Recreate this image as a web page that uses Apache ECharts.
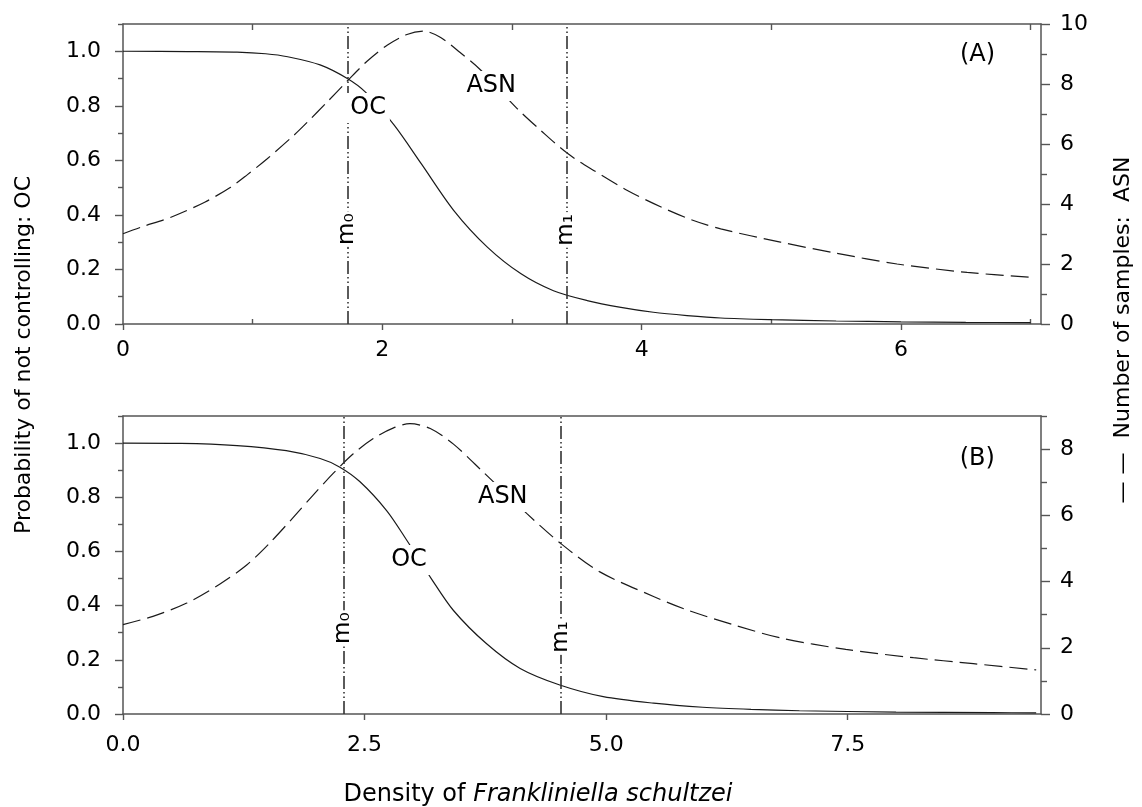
<!DOCTYPE html>
<html>
<head>
<meta charset="utf-8">
<script src="https://cdn.jsdelivr.net/npm/echarts@6/dist/echarts.min.js"></script>
<style>
html,body{margin:0;padding:0;background:#fff;}
#chart{width:1142px;height:807px;}
</style>
</head>
<body>
<div id="chart"></div>
<script>
// ---------- Panel (A) ----------
const xTicksA = [0, 2, 4, 6];
const xMinorA = [1, 3, 5, 7];
const ocTicks = [0, 0.2, 0.4, 0.6, 0.8, 1.0];
const ocMinor = [0.1, 0.3, 0.5, 0.7, 0.9, 1.1];
const asnTicksA = [0, 2, 4, 6, 8, 10];
const asnMinorA = [1, 3, 5, 7, 9];

const ocA_x  = [0, 0.5, 0.88, 1.1, 1.27, 1.52, 1.73, 1.87, 2.09, 2.3, 2.55, 2.81, 3.07, 3.32, 3.58, 3.84, 4.09, 4.35, 4.61, 5.0, 5.5, 6.0, 6.5, 7.0];
const ocA_y  = [1.0, 0.999, 0.997, 0.991, 0.98, 0.95, 0.90, 0.85, 0.73, 0.588, 0.417, 0.282, 0.184, 0.122, 0.086, 0.061, 0.043, 0.031, 0.022, 0.016, 0.011, 0.008, 0.006, 0.005];

const asnA_x = [0, 0.14, 0.37, 0.63, 0.83, 0.96, 1.11, 1.32, 1.42, 1.57, 1.73, 1.88, 2.04, 2.19, 2.32, 2.45, 2.6, 2.76, 3.04, 3.22, 3.43, 3.63, 3.89, 4.15, 4.4, 4.61, 5.07, 5.5, 5.97, 6.51, 6.99];
const asnA_y = [3.01, 3.23, 3.56, 4.06, 4.56, 4.98, 5.5, 6.3, 6.72, 7.38, 8.1, 8.75, 9.3, 9.65, 9.76, 9.55, 9.05, 8.46, 7.18, 6.46, 5.68, 5.12, 4.45, 3.90, 3.45, 3.17, 2.73, 2.36, 2.0, 1.72, 1.56];

const mA = [1.73, 3.42];   // m0, m1

// ---------- Panel (B) ----------
const xTicksB = [0, 2.5, 5, 7.5];
const asnTicksB = [0, 2, 4, 6, 8];
const asnMinorB = [1, 3, 5, 7, 9];

const ocB_x  = [0, 0.6, 1.18, 1.69, 2.04, 2.24, 2.45, 2.73, 2.93, 3.19, 3.42, 3.76, 4.11, 4.52, 4.97, 5.49, 6.0, 6.5, 7.0, 8.0, 9.0, 9.45];
const ocB_y  = [1.0, 0.999, 0.991, 0.972, 0.943, 0.912, 0.858, 0.75, 0.645, 0.50, 0.382, 0.26, 0.168, 0.107, 0.064, 0.04, 0.025, 0.017, 0.012, 0.007, 0.005, 0.004];

const asnB_x = [0, 0.31, 0.66, 1.0, 1.28, 1.52, 1.76, 1.97, 2.18, 2.38, 2.59, 2.8, 2.97, 3.18, 3.42, 3.73, 4.18, 4.53, 4.93, 5.49, 5.83, 6.31, 6.8, 7.48, 8.18, 8.8, 9.45];
const asnB_y = [2.70, 2.95, 3.35, 3.92, 4.5, 5.17, 5.93, 6.62, 7.28, 7.85, 8.32, 8.64, 8.77, 8.62, 8.15, 7.3, 6.05, 5.15, 4.3, 3.55, 3.15, 2.7, 2.3, 1.95, 1.70, 1.52, 1.33];

const mB = [2.28, 4.53];   // m0, m1

// ---------- styling ----------
const FONT = 'DejaVu Sans';
const AX = '#555';
const TXT = '#000';
const CURVE = '#1a1a1a';

function pairs(xs, ys) { return xs.map((x, i) => [x, ys[i]]); }

function axisLineCfg(show) {
  return { show: show, onZero: false, lineStyle: { color: AX, width: 1.5 } };
}
function labelCfg(values, margin, fmt) {
  return { show: true, customValues: values, margin: margin, fontFamily: FONT, fontSize: 22, color: TXT,
           formatter: fmt || (v => String(v)) };
}
function tickCfg(values, len, inside) {
  return { show: true, customValues: values, length: len, inside: !!inside, lineStyle: { color: AX, width: 1.4 } };
}
const noLabel = { show: false };
const noSplit = { show: false };

const chart = echarts.init(document.getElementById('chart'), null, { renderer: 'canvas' });

const mLineStyle = { color: '#333', width: 1.6, type: [13, 3, 1.5, 3, 1.5, 3] };

function mLines(vals) {
  return {
    silent: true, symbol: 'none', animation: false,
    label: { show: false },
    lineStyle: mLineStyle,
    emphasis: { disabled: true },
    data: vals.map(v => ({ xAxis: v }))
  };
}

function annLabel(text, size, rotate) {
  return {
    show: true, position: 'inside', formatter: text, rotate: rotate || 0,
    fontFamily: FONT, fontSize: size, color: TXT, textBorderWidth: 0, opacity: 1,
    backgroundColor: '#fff', padding: rotate ? [1, 2] : [3, 4]
  };
}

const option = {
  backgroundColor: '#fff',
  animation: false,
  grid: [
    { left: 123, right: 101, top: 24, height: 300, outerBoundsMode: 'none', containLabel: false },
    { left: 123, right: 101, top: 416, height: 298, outerBoundsMode: 'none', containLabel: false }
  ],
  xAxis: [
    { gridIndex: 0, type: 'value', position: 'bottom', min: 0, max: 7.08,
      axisLine: axisLineCfg(true), axisTick: tickCfg(xTicksA, 6), axisLabel: labelCfg(xTicksA, 15), splitLine: noSplit },
    { gridIndex: 0, type: 'value', position: 'top', min: 0, max: 7.08,
      axisLine: axisLineCfg(true), axisTick: tickCfg(xMinorA, 6, true), axisLabel: noLabel, splitLine: noSplit },
    { gridIndex: 0, type: 'value', position: 'bottom', min: 0, max: 7.08,
      axisLine: axisLineCfg(false), axisTick: tickCfg(xMinorA, 5, true), axisLabel: noLabel, splitLine: noSplit },
    { gridIndex: 1, type: 'value', position: 'bottom', min: 0, max: 9.5,
      axisLine: axisLineCfg(true), axisTick: tickCfg(xTicksB, 6), axisLabel: labelCfg(xTicksB, 20, v => v.toFixed(1)), splitLine: noSplit },
    { gridIndex: 1, type: 'value', position: 'top', min: 0, max: 9.5,
      axisLine: axisLineCfg(true), axisTick: { show: false }, axisLabel: noLabel, splitLine: noSplit }
  ],
  yAxis: [
    { gridIndex: 0, type: 'value', position: 'left', min: 0, max: 1.1,
      axisLine: axisLineCfg(true), axisTick: tickCfg(ocTicks, 8), axisLabel: labelCfg(ocTicks, 22, v => v.toFixed(1)), splitLine: noSplit },
    { gridIndex: 0, type: 'value', position: 'right', min: 0, max: 10,
      axisLine: axisLineCfg(true), axisTick: tickCfg(asnTicksA, 9), axisLabel: labelCfg(asnTicksA, 19), splitLine: noSplit },
    { gridIndex: 0, type: 'value', position: 'left', min: 0, max: 1.1,
      axisLine: axisLineCfg(false), axisTick: tickCfg(ocMinor, 5), axisLabel: noLabel, splitLine: noSplit },
    { gridIndex: 0, type: 'value', position: 'right', min: 0, max: 10,
      axisLine: axisLineCfg(false), axisTick: tickCfg(asnMinorA, 6), axisLabel: noLabel, splitLine: noSplit },
    { gridIndex: 1, type: 'value', position: 'left', min: 0, max: 1.1,
      axisLine: axisLineCfg(true), axisTick: tickCfg(ocTicks, 8), axisLabel: labelCfg(ocTicks, 22, v => v.toFixed(1)), splitLine: noSplit },
    { gridIndex: 1, type: 'value', position: 'right', min: 0, max: 9,
      axisLine: axisLineCfg(true), axisTick: tickCfg(asnTicksB, 9), axisLabel: labelCfg(asnTicksB, 19), splitLine: noSplit },
    { gridIndex: 1, type: 'value', position: 'left', min: 0, max: 1.1,
      axisLine: axisLineCfg(false), axisTick: tickCfg(ocMinor, 5), axisLabel: noLabel, splitLine: noSplit },
    { gridIndex: 1, type: 'value', position: 'right', min: 0, max: 9,
      axisLine: axisLineCfg(false), axisTick: tickCfg(asnMinorB, 6), axisLabel: noLabel, splitLine: noSplit }
  ],
  series: [
    { name: 'OC (A)', type: 'line', xAxisIndex: 0, yAxisIndex: 0, data: pairs(ocA_x, ocA_y),
      smooth: 0.3, showSymbol: false, silent: true, z: 3,
      lineStyle: { color: CURVE, width: 1.2 }, markLine: mLines(mA) },
    { name: 'ASN (A)', type: 'line', xAxisIndex: 0, yAxisIndex: 1, data: pairs(asnA_x, asnA_y),
      smooth: 0.3, showSymbol: false, silent: true, z: 3,
      lineStyle: { color: CURVE, width: 1.2, type: [18, 7] } },
    { name: 'labels (A)', type: 'scatter', xAxisIndex: 0, yAxisIndex: 0, symbolSize: 1, silent: true, z: 10,
      itemStyle: { color: 'rgba(0,0,0,0)' },
      data: [
        { value: [1.89, 0.792], label: annLabel('OC', 24) },
        { value: [2.84, 0.873], label: annLabel('ASN', 24) },
        { value: [6.59, 0.986], label: annLabel('(A)', 24) },
        { value: [mA[0], 0.348], label: annLabel('m\u2080', 23, 90) },
        { value: [mA[1], 0.345], label: annLabel('m\u2081', 23, 90) }
      ] },
    { name: 'OC (B)', type: 'line', xAxisIndex: 3, yAxisIndex: 4, data: pairs(ocB_x, ocB_y),
      smooth: 0.3, showSymbol: false, silent: true, z: 3,
      lineStyle: { color: CURVE, width: 1.2 }, markLine: mLines(mB) },
    { name: 'ASN (B)', type: 'line', xAxisIndex: 3, yAxisIndex: 5, data: pairs(asnB_x, asnB_y),
      smooth: 0.3, showSymbol: false, silent: true, z: 3,
      lineStyle: { color: CURVE, width: 1.2, type: [18, 7] } },
    { name: 'labels (B)', type: 'scatter', xAxisIndex: 3, yAxisIndex: 4, symbolSize: 1, silent: true, z: 10,
      itemStyle: { color: 'rgba(0,0,0,0)' },
      data: [
        { value: [2.96, 0.568], label: annLabel('OC', 24) },
        { value: [3.93, 0.801], label: annLabel('ASN', 24) },
        { value: [8.84, 0.941], label: annLabel('(B)', 24) },
        { value: [mB[0], 0.317], label: annLabel('m\u2080', 23, 90) },
        { value: [mB[1], 0.284], label: annLabel('m\u2081', 23, 90) }
      ] }
  ],
  graphic: [
    { type: 'text', x: 24, y: 355, rotation: Math.PI / 2, silent: true,
      style: { text: 'Probability of not controlling: OC', fontFamily: FONT, fontSize: 22, fill: TXT,
               align: 'center', verticalAlign: 'middle' } },
    { type: 'text', x: 1123, y: 330, rotation: Math.PI / 2, silent: true,
      style: { text: '\u2014 \u2014  Number of samples:  ASN', fontFamily: FONT, fontSize: 22, fill: TXT,
               align: 'center', verticalAlign: 'middle' } },
    { type: 'text', x: 538, y: 795, silent: true,
      style: { text: '{a|Density of }{b|Frankliniella schultzei}', align: 'center', verticalAlign: 'middle',
               fill: TXT, fontFamily: FONT, fontSize: 24,
               rich: { a: { fontFamily: FONT, fontSize: 24, fill: TXT },
                       b: { fontFamily: FONT, fontSize: 24, fontStyle: 'italic', fill: TXT } } } }
  ]
};

chart.setOption(option);
</script>
</body>
</html>
